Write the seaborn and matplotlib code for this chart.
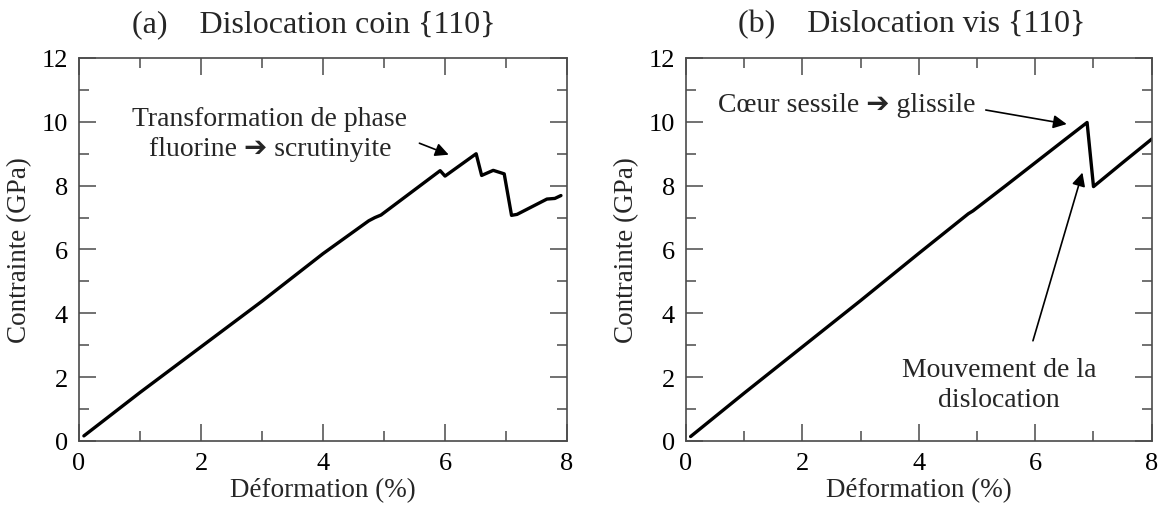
import matplotlib
matplotlib.use("Agg")
import matplotlib.pyplot as plt
import seaborn as sns
import pandas as pd
from matplotlib.ticker import MultipleLocator

# Stress-strain curves for the two dislocation types
strain_edge = [0.08, 1.0, 2.0, 3.0, 4.0, 4.75, 4.85, 4.95, 5.92, 6.0, 6.51, 6.6,
               6.79, 6.97, 7.09, 7.18, 7.67, 7.8, 7.9]
stress_edge = [0.16, 1.52, 2.95, 4.38, 5.87, 6.9, 7.0, 7.08, 8.47, 8.3, 9.0, 8.32,
               8.48, 8.37, 7.07, 7.1, 7.58, 7.6, 7.69]

strain_screw = [0.08, 1.0, 2.0, 3.0, 4.0, 4.85, 4.93, 5.5, 6.0, 6.5, 6.89, 7.0, 7.5, 8.0]
stress_screw = [0.14, 1.5, 2.95, 4.4, 5.88, 7.12, 7.21, 8.01, 8.72, 9.43, 9.98, 7.97, 8.72, 9.46]

titles = ["(a)    Dislocation coin {110}", "(b)    Dislocation vis {110}"]
xlabel = "Déformation (%)"
ylabel = "Contrainte (GPa)"
x_ticks = [0, 2, 4, 6, 8]
y_ticks = [0, 2, 4, 6, 8, 10, 12]

sns.set_theme(style="ticks")
plt.rcParams["font.family"] = ["Liberation Serif", "DejaVu Sans"]

fig = plt.figure(figsize=(11.67, 5.06), dpi=100)
fig.patch.set_facecolor("white")
ax_a = fig.add_axes([0.0677, 0.1265, 0.4182, 0.7569])
ax_b = fig.add_axes([0.5878, 0.1265, 0.3991, 0.7569])

spine_col = "#4a4a4a"

def style_axes(ax, title, tx):
    ax.set_xlim(0, 8)
    ax.set_ylim(0, 12)
    ax.set_xticks(x_ticks)
    ax.set_yticks(y_ticks)
    ax.xaxis.set_minor_locator(MultipleLocator(1))
    ax.yaxis.set_minor_locator(MultipleLocator(1))
    ax.tick_params(which="both", direction="in", top=True, right=True,
                   color=spine_col, width=1.1, labelsize=19, labelcolor="black")
    ax.tick_params(which="major", length=12.5, pad=8)
    ax.tick_params(which="minor", length=7)
    for s in ax.spines.values():
        s.set_color(spine_col)
        s.set_linewidth(1.2)
        s.set_visible(True)
    ax.set_xlabel(xlabel, fontsize=19.5, labelpad=2)
    ax.set_ylabel(ylabel, fontsize=19.5, labelpad=7)
    ax.set_facecolor("white")
    ax.grid(False)
    ax.text(tx, 1.09, title, transform=ax.transAxes, ha="center", va="center",
            fontsize=23)

df_a = pd.DataFrame({"strain": strain_edge, "stress": stress_edge})
df_b = pd.DataFrame({"strain": strain_screw, "stress": stress_screw})

sns.lineplot(data=df_a, x="strain", y="stress", ax=ax_a, sort=False, estimator=None,
             color="black", linewidth=2.4)
sns.lineplot(data=df_b, x="strain", y="stress", ax=ax_b, sort=False, estimator=None,
             color="black", linewidth=2.4)

style_axes(ax_a, titles[0], 0.4816)
style_axes(ax_b, titles[1], 0.485)

arrow = dict(arrowstyle="-|>", color="black", lw=1.2, mutation_scale=20,
             shrinkA=0, shrinkB=0)

# Panel (a): phase transformation note
ax_a.text(3.13, 9.64, "Transformation de phase\nfluorine ➔ scrutinyite",
          ha="center", va="center", fontsize=20, linespacing=1.25)
ax_a.annotate("", xy=(6.06, 8.97), xytext=(5.58, 9.33), arrowprops=arrow)

# Panel (b): core change and dislocation motion
ax_b.text(2.76, 10.53, "Cœur sessile ➔ glissile", ha="center", va="center",
          fontsize=20)
ax_b.annotate("", xy=(6.54, 9.93), xytext=(5.15, 10.37), arrowprops=arrow)
ax_b.text(5.38, 1.78, "Mouvement de la\ndislocation", ha="center", va="center",
          fontsize=20, linespacing=1.25)
ax_b.annotate("", xy=(6.81, 8.41), xytext=(5.96, 3.14), arrowprops=arrow)

fig.savefig("out.png", dpi=100, facecolor="white")
